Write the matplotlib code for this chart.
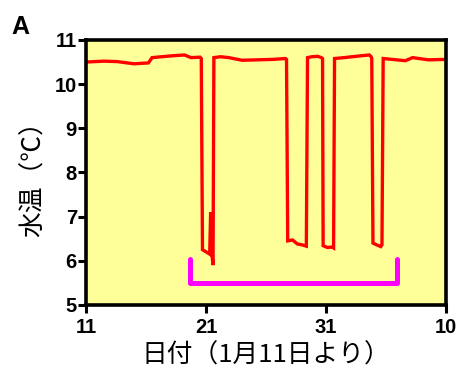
import matplotlib
matplotlib.use("Agg")
import matplotlib.pyplot as plt

# water temperature log, days counted from Jan 11 (41 = Feb 10)
days = [11.0, 12.5, 13.6, 15.0, 16.2, 16.5, 18.1, 19.2, 19.75, 20.5, 20.6,
        20.7, 21.0, 21.3, 21.38, 21.42, 21.5, 21.58, 21.65,
        22.2, 22.9, 24.0, 25.3, 26.6, 27.6, 27.7,
        27.8, 28.2, 28.6, 29.0, 29.35, 29.45,
        29.8, 30.3, 30.6, 30.7,
        30.75, 31.1, 31.5, 31.62, 31.7,
        32.5, 33.5, 34.6, 34.75, 34.8,
        34.9, 35.2, 35.55, 35.65, 35.75,
        36.5, 37.6, 38.2, 39.5, 41.0]
temps = [10.50, 10.52, 10.51, 10.46, 10.48, 10.60, 10.64, 10.66, 10.60, 10.61, 10.58,
         6.25, 6.20, 6.15, 7.10, 6.15, 6.12, 5.90, 10.60,
         10.62, 10.60, 10.54, 10.55, 10.56, 10.58, 10.56,
         6.45, 6.47, 6.38, 6.36, 6.33, 10.60,
         10.62, 10.63, 10.60, 10.58,
         6.34, 6.30, 6.31, 6.29, 10.58,
         10.60, 10.63, 10.66, 10.62, 10.58,
         6.40, 6.36, 6.32, 6.36, 10.58,
         10.56, 10.53, 10.60, 10.55, 10.56]

# bracket marking the test period
bracket_days = [19.7, 19.7, 36.9, 36.9]
bracket_vals = [6.05, 5.5, 5.5, 6.05]

xticks = [11, 21, 31, 41]
xtick_labels = ['11', '21', '31', '10']
yticks = [5, 6, 7, 8, 9, 10, 11]

jp = ['Noto Sans CJK JP', 'DejaVu Sans']
num = ['Liberation Sans', 'DejaVu Sans']

fig = plt.figure(figsize=(4.6, 3.7), dpi=100)
ax = fig.add_axes([0.187, 0.176, 0.783, 0.716])
ax.set_facecolor('#ffff99')

ax.plot(days, temps, color='#ff0000', lw=2.4, solid_joinstyle='miter')
ax.plot(bracket_days, bracket_vals, color='#ff00ff', lw=3.6,
        solid_capstyle='round', solid_joinstyle='round')

ax.set_xlim(11, 41)
ax.set_ylim(5, 11)
ax.set_xticks(xticks)
ax.set_xticklabels(xtick_labels)
ax.set_yticks(yticks)
for lab in ax.get_xticklabels() + ax.get_yticklabels():
    lab.set_fontfamily(num)
    lab.set_fontweight('bold')
    lab.set_fontsize(14.5)
ax.tick_params(axis='y', direction='out', length=5.5, width=2.2, pad=1)
ax.tick_params(axis='x', direction='out', length=5.5, width=2.2, pad=4)

for s in ax.spines.values():
    s.set_linewidth(2.6)

ax.set_ylabel('水温（℃）', family=jp, fontsize=18.5, labelpad=6)
ax.set_xlabel('日付（1月11日より）', family=jp, fontsize=18.5, labelpad=4)

fig.text(0.025, 0.96, 'A', family=num, fontweight='bold', fontsize=18,
         va='top', ha='left')

fig.savefig('out.png', dpi=100)
